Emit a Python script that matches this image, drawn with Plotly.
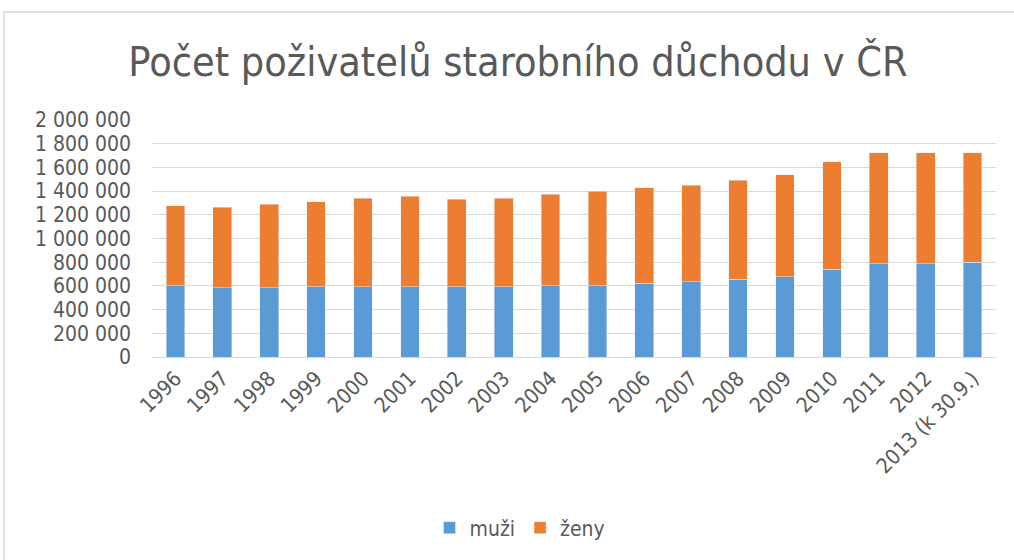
import plotly.graph_objects as go

years = ["1996", "1997", "1998", "1999", "2000", "2001", "2002", "2003", "2004",
         "2005", "2006", "2007", "2008", "2009", "2010", "2011", "2012", "2013 (k 30.9.)"]
muzi = [603000, 583000, 583000, 592000, 592000, 592000, 592000, 592000, 603000,
        603000, 623000, 637000, 656000, 679000, 741000, 788000, 788000, 800000]
zeny = [673000, 682000, 705000, 718000, 749000, 763000, 738000, 749000, 769000,
        794000, 805000, 811000, 836000, 858000, 906000, 934000, 934000, 922000]

FONT = "DejaVu Sans Condensed, Open Sans, sans-serif"
GRAY = "#595959"

fig = go.Figure()
fig.add_trace(go.Bar(x=years, y=muzi, name="muži", marker_color="#5B9BD5"))
fig.add_trace(go.Bar(x=years, y=zeny, name="ženy", marker_color="#ED7D31"))

L, R, T, B = 152, 18, 120, 203
W, H = 1014, 560
pw = W - L - R
ph = H - T - B

def px2x(px):
    return (px - L) / pw

def py2y(py):
    return (H - B - py) / ph

fig.add_shape(type="rect", xref="paper", yref="paper",
              x0=px2x(4), x1=px2x(1030), y0=py2y(600), y1=py2y(12),
              line=dict(color="#D9D9D9", width=1.5), fillcolor="rgba(0,0,0,0)", layer="below")

fig.update_layout(
    width=W, height=H,
    barmode="stack", bargap=0.6,
    separators=", ",
    paper_bgcolor="white", plot_bgcolor="white",
    margin=dict(l=L, r=R, t=T, b=B, autoexpand=False),
    font=dict(family=FONT, color=GRAY, size=21),
    title=dict(text="Počet poživatelů starobního důchodu v ČR",
               font=dict(family=FONT, size=41, color=GRAY),
               x=518 / W, xanchor="center", xref="container",
               y=1 - 62 / H, yanchor="middle", yref="container"),
    xaxis=dict(tickangle=-45, showgrid=False, showline=True, linecolor="#D9D9D9",
               linewidth=1, ticks="", tickfont=dict(size=21, color=GRAY)),
    yaxis=dict(range=[0, 2000000], dtick=200000, tickformat=",d",
               showgrid=True, gridcolor="#D9D9D9", gridwidth=1, zeroline=False,
               ticks="", tickfont=dict(size=21, color=GRAY), ticklabelstandoff=20),
    legend=dict(orientation="h", xref="container", yref="container",
                x=520 / W, xanchor="center", y=1 - 528 / H, yanchor="middle",
                traceorder="normal",
                font=dict(size=21, color=GRAY), itemwidth=30),
    showlegend=True,
)

fig.write_html("out.html", config={"displayModeBar": False},
               post_script="document.body.style.margin='0';document.body.style.overflow='hidden';")
